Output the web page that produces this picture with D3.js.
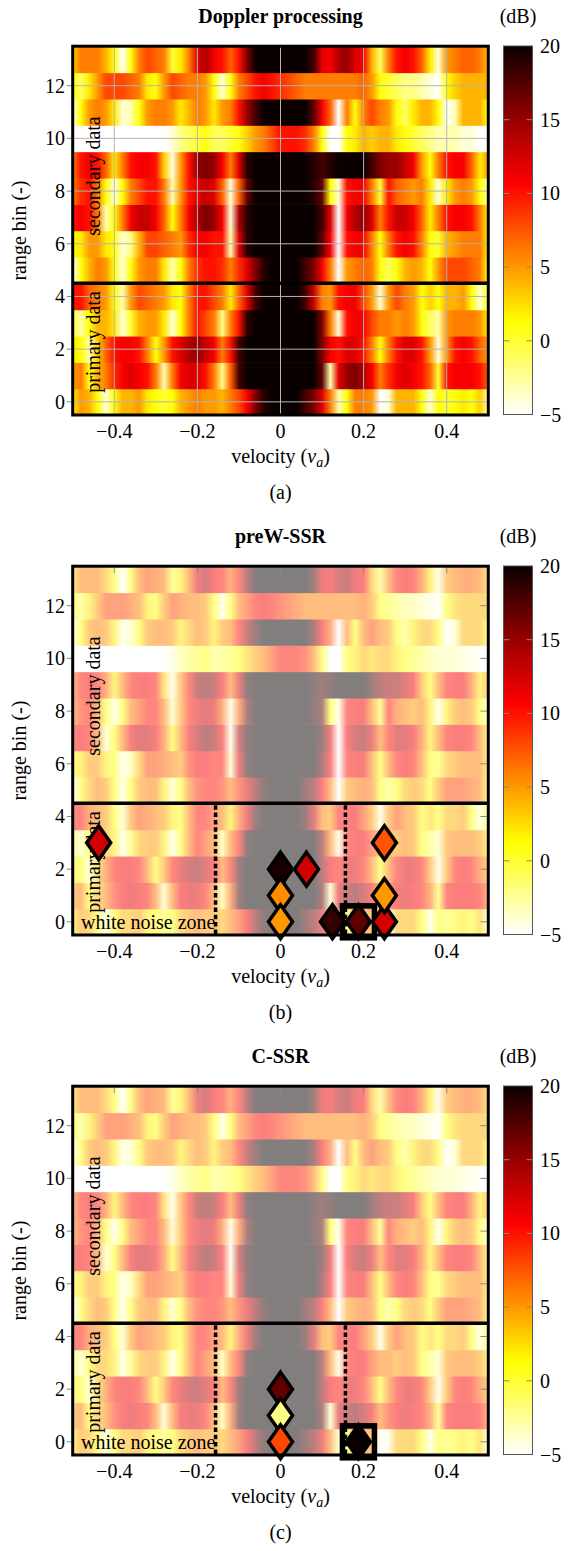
<!DOCTYPE html>
<html>
<head>
<meta charset="utf-8">
<script src="https://cdn.jsdelivr.net/npm/d3@7"></script>
<style>
  body { margin: 0; background: #fff; }
  text { font-family: "Liberation Serif", "DejaVu Serif", serif; fill: #000; }
</style>
</head>
<body>
<svg id="fig" width="576" height="1551"></svg>
<script>
// velocity grid (v_a) and Doppler power per range bin, in dB
const velocity = [-0.5, -0.48, -0.46, -0.44, -0.42, -0.4, -0.38, -0.36, -0.34, -0.32, -0.3,
  -0.28, -0.26, -0.24, -0.22, -0.2, -0.18, -0.16, -0.14, -0.12, -0.1, -0.08, -0.06, -0.04, -0.02,
  0, 0.02, 0.04, 0.06, 0.08, 0.1, 0.12, 0.14, 0.16, 0.18, 0.2, 0.22, 0.24, 0.26, 0.28, 0.3,
  0.32, 0.34, 0.36, 0.38, 0.4, 0.42, 0.44, 0.46, 0.48, 0.5];

const bin0  = [2, 5, 4, 1, -4, 1, 4, 4, 5, 2, 1, 0, 1, 4, 5, 6, 5, 5, 4, 6, 8, 11, 16, 19, 20, 20,
  20, 20, 18, 16, 12, 6, -3, 1, 6, 6, 5, -5, -4, 4, 4, 4, 1, -4, 1, 0, 1, 2, 1, 3, -3];
const bin1  = [5, 6, 1, 4, 6, 9, 11, 12, 11, 10, 6, -3, 6, 11, 12, 12, 10, 6, -2, 7, 18, 20, 20, 20, 20, 20,
  20, 20, 20, 20, 17, -3, 12, 15, 16, 14, 11, 6, 9, 11, 12, 11, 10, 7, 0, 10, 11, 11, 11, 10, 7];
const bin2  = [2, 1, -3, 3, 7, 10, 11, 11, 10, 6, 1, 5, 10, 12, 14, 15, 13, 11, 6, 10, 18, 20, 20, 20, 20, 20,
  20, 20, 20, 20, 16, 11, 10, 12, 12, 10, 6, 1, 6, 10, 12, 12, 10, 5, -4, 5, 10, 11, 10, 7, 5];
const bin3  = [0, -3, 1, 4, 4, 2, -4, 0, 4, 5, 5, 2, -4, 1, 6, 10, 8, 6, -2, 6, 10, 19, 20, 20, 20, 20,
  20, 20, 20, 20, 16, 6, -4, 10, 11, 11, 8, 6, 6, 5, 6, 5, 1, -1, -3, 5, 6, 6, 6, 5, 2];
const bin4  = [10, 10, 7, 6, 5, 1, -3, 5, 8, 7, 6, 5, 2, 1, 6, 10, 10, 8, 6, 2, 7, 12, 18, 20, 20, 20,
  20, 20, 18, 13, 6, 5, 10, 11, 11, 8, 5, -4, 5, 8, 6, 5, 1, 3, 1, 4, 4, 5, 1, -4, 1];
const bin5  = [-5, 1, 4, 6, 5, 1, -4, 1, 5, 6, 6, 2, -3, 1, 6, 9, 10, 10, 9, 6, 9, 12, 16, 19, 20, 20,
  20, 20, 18, 16, 11, 6, -5, 5, 6, 7, 6, 1, -1, 1, 4, 5, 4, 1, 5, 8, 8, 8, 7, 6, 1];
const bin6  = [1, 2, 5, 5, 2, 1, -4, -2, 4, 8, 8, 7, 6, 5, 9, 11, 11, 10, 10, -3, 12, 19, 20, 20, 20, 20,
  20, 20, 20, 20, 17, 11, -5, 10, 11, 11, 6, 1, 6, 10, 11, 10, 6, 1, 0, 4, 5, 6, 6, 6, 2];
const bin7  = [10, 11, 10, 6, -3, 1, 6, 11, 13, 13, 11, 7, 1, 6, 11, 14, 16, 15, 11, -4, 14, 19, 20, 20, 20, 20,
  20, 20, 20, 20, 18, 12, -5, 11, 14, 15, 12, 6, 10, 13, 13, 11, 7, 2, 6, 10, 11, 11, 10, 6, 2];
const bin8  = [6, 9, 10, 6, 1, -4, 1, 6, 8, 10, 10, 6, -3, 5, 10, 12, 13, 12, 7, -4, 7, 17, 20, 20, 20, 20,
  20, 20, 20, 19, 17, 1, -4, 10, 11, 11, 6, 0, 10, 7, 6, 5, 6, 2, -4, 2, 5, 6, 5, 1, -3];
const bin9  = [6, 10, 11, 10, 7, 2, 6, 10, 11, 11, 10, 3, -4, 5, 10, 15, 16, 15, 11, 6, 12, 19, 20, 20, 20, 20,
  20, 20, 20, 19, 18, 19, 20, 20, 20, 20, 18, 16, 15, 15, 13, 11, 5, 1, 6, 10, 11, 11, 7, 2, 5];
const bin10 = [-5, -5, -5, -5, -5, -5, -5, -5, -5, -5, -5, -5, -4, -2, -1, 0, 1, -1, -1, 0, 1, 3, 5, 6, 8, 10,
  10, 10, 9, 6, 1, -5, -5, 1, 2, 4, 3, 4, 4, 2, 1, 0, -1, -2, -3, -3, -3, -4, -4, -5, -5];
const bin11 = [-4, 1, 5, 6, 5, 2, -4, -3, 1, 5, 6, 6, 5, 2, 4, 6, 5, 2, 5, 6, 10, 15, 18, 20, 20, 20,
  20, 20, 20, 17, 11, 7, -5, 6, 1, 6, 8, 6, 5, 1, -1, 2, 4, 4, 1, -5, -3, 4, 4, 4, 1];
const bin12 = [1, -1, 2, 5, 8, 8, 8, 7, 6, 2, 1, 5, 8, 7, 6, 6, 5, 1, -4, 1, 6, 8, 10, 11, 10, 9,
  8, 7, 6, 6, 6, 6, 6, 6, 6, 7, 5, 1, 0, -1, -2, -2, -3, -4, -5, 1, 3, 4, 4, 4, 4];
const bin13 = [3, 6, 6, 6, 4, 1, -5, 1, 6, 8, 7, 6, 0, 2, 6, 12, 14, 11, 10, 7, 10, 16, 20, 20, 20, 20,
  20, 20, 20, 18, 12, 11, 14, 15, 12, 11, 4, -1, 6, 10, 11, 10, 7, 2, -4, 5, 6, 7, 7, 6, 4];
const powerRows = [bin0, bin1, bin2, bin3, bin4, bin5, bin6, bin7, bin8, bin9, bin10, bin11, bin12, bin13];

const xTicks = [-0.4, -0.2, 0, 0.2, 0.4];
const yTicks = [0, 2, 4, 6, 8, 10, 12];
const cbTicks = [-5, 0, 5, 10, 15, 20];
const panelTitles = ["Doppler processing", "preW-SSR", "C-SSR"];
const panelLetters = ["(a)", "(b)", "(c)"];
const splitBin = 4.5;
const zoneLimits = [-0.15625, 0.15625];

// detected targets (velocity, range bin, power dB)
const preWVel = [-0.4375, 0, 0.0625, 0, 0, 0.125, 0.1875, 0.25, 0.25, 0.25];
const preWBin = [3, 2, 2, 1, 0, 0, 0, 0, 1, 3];
const preWDb  = [12.5, 19.5, 12.5, 5.5, 5, 18.5, 17, 12.5, 5, 7.5];
const cssrVel = [0, 0, 0, 0.1875];
const cssrBin = [2, 1, 0, 0];
const cssrDb  = [17, -2, 8, 20];
const trueVel = [0.1875];
const trueBin = [0];

const svg = d3.select("#fig");
const W = 576;
const x = d3.scaleLinear().domain([-0.5, 0.5]).range([72.7, 488.3]);
const color = d3.scaleLinear()
    .domain([-5, 1.25, 10.6, 15, 20])
    .range(["#ffffff", "#ffff00", "#ff0000", "#980000", "#0a0000"])
    .clamp(true);

const defs = svg.append("defs");
const offs = d3.scaleLinear().domain(x.domain()).range([0, 1]);

// one horizontal gradient per range bin
powerRows.forEach((row, i) => {
    const gr = defs.append("linearGradient")
        .attr("id", "row" + i)
        .attr("gradientUnits", "userSpaceOnUse")
        .attr("x1", x(-0.5)).attr("x2", x(0.5))
        .attr("y1", 0).attr("y2", 0);
    gr.selectAll("stop").data(row).join("stop")
        .attr("offset", (d, j) => offs(velocity[j]))
        .attr("stop-color", d => color(d));
});

const cbGrad = defs.append("linearGradient")
    .attr("id", "cb").attr("x1", 0).attr("x2", 0).attr("y1", 1).attr("y2", 0);
const cbOff = d3.scaleLinear().domain([-5, 20]).range([0, 1]);
cbGrad.selectAll("stop").data(color.domain()).join("stop")
    .attr("offset", d => cbOff(d))
    .attr("stop-color", d => color(d));

const fmt = d => (d < 0 ? "\u2212" : "") + Math.abs(d);
const diamond = "M0,-17L12,0L0,17L-12,0Z";

function drawPanel(k) {
    const off = k * 520;
    const y = d3.scaleLinear().domain([-0.5, 13.5]).range([415 + off, 46.2 + off]);
    const g = svg.append("g");

    // heatmap
    const heat = g.append("g").attr("opacity", k == 0 ? 1 : 0.5);
    heat.selectAll("rect").data(powerRows).join("rect")
        .attr("x", x(-0.5))
        .attr("width", x(0.5) - x(-0.5))
        .attr("y", (d, i) => y(i + 0.5))
        .attr("height", (d, i) => y(i - 0.5) - y(i + 0.5) + 0.6)
        .attr("fill", (d, i) => `url(#row${i})`);

    if (k == 0) {
        // major grid
        g.append("g").selectAll("line").data(xTicks).join("line")
            .attr("x1", d => x(d)).attr("x2", d => x(d))
            .attr("y1", y(13.5)).attr("y2", y(-0.5))
            .attr("stroke", "#b4b4b4").attr("stroke-width", 1);
        g.append("g").selectAll("line").data(yTicks).join("line")
            .attr("x1", x(-0.5)).attr("x2", x(0.5))
            .attr("y1", d => y(d)).attr("y2", d => y(d))
            .attr("stroke", "#b4b4b4").attr("stroke-width", 1);
    } else {
        g.append("g").selectAll("line").data(xTicks).join("line")
            .attr("x1", d => x(d)).attr("x2", d => x(d))
            .attr("y1", y(13.5)).attr("y2", y(13.5) + 7)
            .attr("stroke", "#888").attr("stroke-width", 1);
        g.append("g").selectAll("line").data(yTicks).join("line")
            .attr("x1", x(0.5) - 8).attr("x2", x(0.5))
            .attr("y1", d => y(d)).attr("y2", d => y(d))
            .attr("stroke", "#888").attr("stroke-width", 1);
    }
    // left outer tick marks
    g.append("g").selectAll("line").data(yTicks).join("line")
        .attr("x1", x(-0.5) - 6).attr("x2", x(-0.5))
        .attr("y1", d => y(d)).attr("y2", d => y(d))
        .attr("stroke", "#888").attr("stroke-width", 1);

    // primary / secondary separator
    g.append("line")
        .attr("x1", x(-0.5)).attr("x2", x(0.5))
        .attr("y1", y(splitBin)).attr("y2", y(splitBin))
        .attr("stroke", "#000").attr("stroke-width", 3.6);

    g.append("text")
        .attr("transform", `translate(100,${176 + off}) rotate(-90)`)
        .attr("text-anchor", "middle").style("font-size", "20px")
        .text("secondary data");
    g.append("text")
        .attr("transform", `translate(100,${342 + off}) rotate(-90)`)
        .attr("text-anchor", "middle").style("font-size", "20px")
        .text("primary data");

    if (k > 0) {
        g.append("g").selectAll("line").data(zoneLimits).join("line")
            .attr("x1", d => x(d)).attr("x2", d => x(d))
            .attr("y1", y(splitBin) + 2).attr("y2", y(-0.5))
            .attr("stroke", "#000").attr("stroke-width", 3.5)
            .attr("stroke-dasharray", "4.5 2.8");
        g.append("text")
            .attr("x", 81).attr("y", y(0) + 7)
            .style("font-size", "20px")
            .text("white noise zone");

        g.append("g").selectAll("rect").data(trueVel).join("rect")
            .attr("x", (d, i) => x(d) - 16).attr("y", (d, i) => y(trueBin[i]) - 16)
            .attr("width", 32).attr("height", 32)
            .attr("fill", "none").attr("stroke", "#000").attr("stroke-width", 5.5);

        const vel = k == 1 ? preWVel : cssrVel;
        const bins = k == 1 ? preWBin : cssrBin;
        const dbs = k == 1 ? preWDb : cssrDb;
        g.append("g").selectAll("path").data(vel).join("path")
            .attr("d", diamond)
            .attr("transform", (d, i) => `translate(${x(d)},${y(bins[i])})`)
            .attr("fill", (d, i) => color(dbs[i]))
            .attr("stroke", "#000").attr("stroke-width", 3.5)
            .attr("stroke-linejoin", "miter");
    }

    // frame
    g.append("rect")
        .attr("x", x(-0.5)).attr("y", y(13.5))
        .attr("width", x(0.5) - x(-0.5)).attr("height", y(-0.5) - y(13.5))
        .attr("fill", "none").attr("stroke", "#000").attr("stroke-width", 3);

    // tick labels
    g.append("g").selectAll("text").data(xTicks).join("text")
        .attr("x", d => x(d)).attr("y", 438 + off)
        .attr("text-anchor", "middle").style("font-size", "20px")
        .text(d => fmt(d));
    g.append("g").selectAll("text").data(yTicks).join("text")
        .attr("x", 65).attr("y", d => y(d)).attr("dy", "0.35em")
        .attr("text-anchor", "end").style("font-size", "20px")
        .text(d => fmt(d));

    // axis labels and titles
    const xl = g.append("text")
        .attr("x", (x(-0.5) + x(0.5)) / 2).attr("y", 463 + off)
        .attr("text-anchor", "middle").style("font-size", "20px");
    xl.append("tspan").text("velocity (");
    xl.append("tspan").attr("font-style", "italic").text("v");
    xl.append("tspan").attr("font-style", "italic").attr("font-size", "14px").attr("dy", 4).text("a");
    xl.append("tspan").attr("dy", -4).text(")");

    g.append("text")
        .attr("transform", `translate(26,${(y(-0.5) + y(13.5)) / 2}) rotate(-90)`)
        .attr("text-anchor", "middle").style("font-size", "20px")
        .text("range bin (-)");

    g.append("text")
        .attr("x", (x(-0.5) + x(0.5)) / 2).attr("y", 23 + off)
        .attr("text-anchor", "middle").style("font-size", "20px").style("font-weight", "bold")
        .text(panelTitles[k]);
    g.append("text")
        .attr("x", (x(-0.5) + x(0.5)) / 2).attr("y", 499 + off)
        .attr("text-anchor", "middle").style("font-size", "20px")
        .text(panelLetters[k]);

    // colorbar
    const cy = d3.scaleLinear().domain([-5, 20]).range([414.5 + off, 46 + off]);
    g.append("rect")
        .attr("x", 503.5).attr("y", cy(20)).attr("width", 29).attr("height", cy(-5) - cy(20))
        .attr("fill", "url(#cb)").attr("stroke", "#555").attr("stroke-width", 1);
    const inner = cbTicks.filter(d => d > -5 && d < 20);
    g.append("g").selectAll("line").data(inner).join("line")
        .attr("x1", 503.5).attr("x2", 509.5)
        .attr("y1", d => cy(d)).attr("y2", d => cy(d))
        .attr("stroke", "#888").attr("stroke-width", 1);
    g.append("g").selectAll("line").data(inner).join("line")
        .attr("x1", 526.5).attr("x2", 532.5)
        .attr("y1", d => cy(d)).attr("y2", d => cy(d))
        .attr("stroke", "#888").attr("stroke-width", 1);
    g.append("g").selectAll("text").data(cbTicks).join("text")
        .attr("x", 540).attr("y", d => cy(d)).attr("dy", "0.35em")
        .style("font-size", "20px")
        .text(d => fmt(d));
    g.append("text")
        .attr("x", 518).attr("y", 23 + off)
        .attr("text-anchor", "middle").style("font-size", "20px")
        .text("(dB)");
}

[0, 1, 2].forEach(drawPanel);
</script>
</body>
</html>
